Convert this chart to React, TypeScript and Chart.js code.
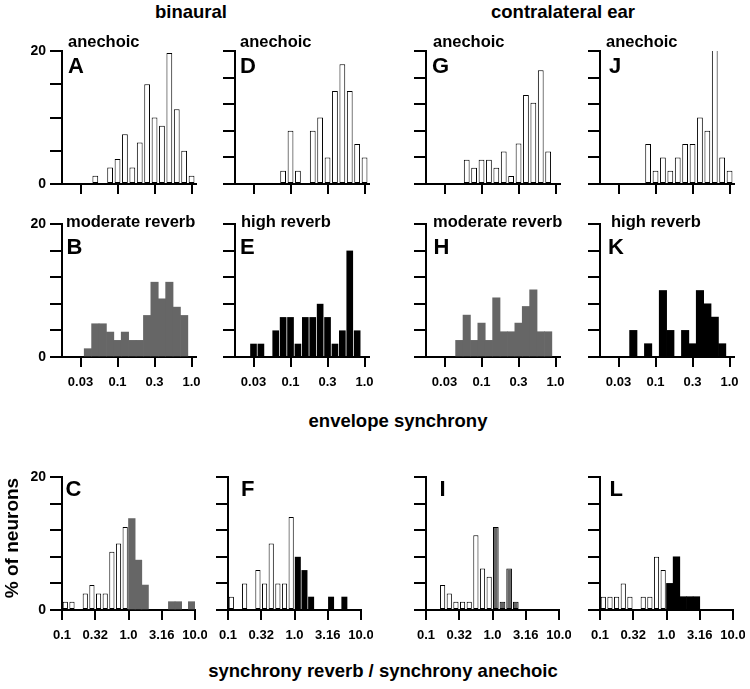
import React, { useEffect, useRef } from 'react';
import { Chart, registerables } from 'chart.js';

Chart.register(...registerables);

const FONT = '"Liberation Sans", Arial, Helvetica, sans-serif';

// ---------- envelope synchrony histograms (bin centres in log10 units, % of neurons) ----------
const binsA = [-1.3, -1.1, -1.0, -0.9, -0.8, -0.7, -0.6, -0.5, -0.4, -0.3, -0.2, -0.1, 0.0];
const valsA = [1.25, 2.5, 3.75, 7.5, 2.5, 6.25, 15, 10, 8.75, 19.7, 11.25, 5, 1.25];

const binsD = [-1.1, -1.0, -0.9, -0.7, -0.6, -0.5, -0.4, -0.3, -0.2, -0.1, 0.0];
const valsD = [2, 8, 2, 8, 10, 4, 14, 18, 14, 6, 4];

const binsG = [-1.2, -1.1, -1.0, -0.9, -0.8, -0.7, -0.6, -0.5, -0.4, -0.3, -0.2, -0.1];
const valsG = [3.66, 2.44, 3.66, 3.66, 2.44, 4.88, 1.22, 6.1, 13.4, 12.2, 17.1, 4.88];

const binsJ = [-1.1, -1.0, -0.9, -0.8, -0.7, -0.6, -0.5, -0.4, -0.3, -0.2, -0.1, 0.0];
const valsJ = [6, 2, 4, 2, 4, 6, 6, 10, 8, 26, 4, 2];

const binsB = [-1.4, -1.3, -1.2, -1.1, -1.0, -0.9, -0.8, -0.7, -0.6, -0.5, -0.4, -0.3, -0.2, -0.1];
const valsB = [1.25, 5, 5, 3.75, 2.5, 3.75, 2.5, 2.5, 6.25, 11.25, 8.75, 11.25, 7.5, 6.25];

const binsE = [-1.5, -1.4, -1.2, -1.1, -1.0, -0.9, -0.8, -0.7, -0.6, -0.5, -0.4, -0.3, -0.2, -0.1];
const valsE = [2, 2, 4, 6, 6, 2, 6, 6, 8, 6, 2, 4, 16, 4];

const binsH = [-1.3, -1.2, -1.1, -1.0, -0.9, -0.8, -0.7, -0.6, -0.5, -0.4, -0.3, -0.2, -0.1];
const valsH = [2.5, 6.3, 2.5, 5.1, 2.5, 8.9, 3.8, 3.8, 5.1, 7.6, 10.1, 3.8, 3.8];

const binsK = [-1.3, -1.1, -0.9, -0.8, -0.6, -0.5, -0.4, -0.3, -0.2, -0.1];
const valsK = [4, 2, 10, 4, 4, 2, 10, 8, 6, 2];

// ---------- ratio histograms (log10 of synchrony reverb / anechoic) ----------
const binsCOpen = [-0.95, -0.85, -0.65, -0.55, -0.45, -0.35, -0.25, -0.15, -0.05];
const valsCOpen = [1.25, 1.25, 2.5, 3.75, 2.5, 2.5, 8.75, 10, 12.5];
const binsCFill = [0.05, 0.15, 0.25, 0.65, 0.75, 0.95];
const valsCFill = [13.75, 7.5, 3.75, 1.25, 1.25, 1.25];

const binsFOpen = [-0.95, -0.75, -0.55, -0.45, -0.35, -0.25, -0.15, -0.05];
const valsFOpen = [2, 4, 6, 4, 10, 4, 4, 14];
const binsFFill = [0.05, 0.15, 0.25, 0.55, 0.75];
const valsFFill = [8, 6, 2, 2, 2];

const binsIOpen = [-0.75, -0.65, -0.55, -0.45, -0.35, -0.25, -0.15, -0.05];
const valsIOpen = [3.75, 2.5, 1.25, 1.25, 1.25, 11.25, 6.25, 5];
const binsIFill = [0.05, 0.15, 0.25, 0.35];
const valsIFill = [12.5, 1.25, 6.25, 1.25];

const binsLOpen = [-0.95, -0.85, -0.75, -0.65, -0.55, -0.35, -0.25, -0.15, -0.05];
const valsLOpen = [2, 2, 2, 4, 2, 2, 2, 8, 6];
const binsLFill = [0.05, 0.15, 0.25, 0.35, 0.45];
const valsLFill = [4, 8, 2, 2, 2];

// ---------- tick values / labels ----------
const envTicks = [-1.5, -1, -0.5, 0];
const envTickLabels = ['0.03', '0.1', '0.3', '1.0'];
const ratioTicks = [-1, -0.5, 0, 0.5, 1];
const ratioTickLabels = ['0.1', '0.32', '1.0', '3.16', '10.0'];
const yMax = 20;

type Kind = 'open' | 'gray' | 'black' | 'blackSep' | 'grayOutlined';
interface Series { bins: number[]; vals: number[]; kind: Kind }
interface PanelDef {
  id: string; left: number; top: number; width: number; height: number;
  xMin: number; xMax: number; ticks: number[]; tickLabels: string[];
  showXLabels: boolean; showYLabels: boolean; yStep: number; series: Series[];
}

const styleFor = (kind: Kind): any => {
  switch (kind) {
    case 'open':
      return { backgroundColor: '#ffffff', borderColor: '#000000', borderWidth: 1, borderSkipped: false, barPercentage: 0.78, categoryPercentage: 1 };
    case 'gray':
      return { backgroundColor: '#666666', borderWidth: 0, barPercentage: 1, categoryPercentage: 1 };
    case 'grayOutlined':
      return { backgroundColor: '#666666', borderColor: '#000000', borderWidth: 1, borderSkipped: false, barPercentage: 0.85, categoryPercentage: 1 };
    case 'black':
      return { backgroundColor: '#000000', borderWidth: 0, barPercentage: 1, categoryPercentage: 1 };
    case 'blackSep':
      return { backgroundColor: '#000000', borderWidth: 0, barPercentage: 0.9, categoryPercentage: 1, inflateAmount: 0 };
  }
};

const ENV_MIN = -1.75, ENV_MAX = 0.06;
const R1 = { top: 51, height: 133 };
const R2 = { top: 224, height: 133 };
const R3 = { top: 477, height: 133 };
const envCols = [62, 235, 426, 600];
const ratioCols = [62, 228, 426, 600];

const envPanel = (id: string, col: number, row: { top: number; height: number }, series: Series[], showXLabels: boolean, showYLabels: boolean, yStep: number): PanelDef => ({
  id, left: col, top: row.top, width: 134, height: row.height, xMin: ENV_MIN, xMax: ENV_MAX,
  ticks: envTicks, tickLabels: envTickLabels, showXLabels, showYLabels, yStep, series,
});
const ratioPanel = (id: string, col: number, series: Series[], showYLabels: boolean): PanelDef => ({
  id, left: col, top: R3.top, width: 133, height: R3.height, xMin: -1, xMax: 1,
  ticks: ratioTicks, tickLabels: ratioTickLabels, showXLabels: true, showYLabels, yStep: 4, series,
});

const panels: PanelDef[] = [
  envPanel('A', envCols[0], R1, [{ bins: binsA, vals: valsA, kind: 'open' }], false, true, 5),
  envPanel('D', envCols[1], R1, [{ bins: binsD, vals: valsD, kind: 'open' }], false, false, 4),
  envPanel('G', envCols[2], R1, [{ bins: binsG, vals: valsG, kind: 'open' }], false, false, 4),
  envPanel('J', envCols[3], R1, [{ bins: binsJ, vals: valsJ, kind: 'open' }], false, false, 4),
  envPanel('B', envCols[0], R2, [{ bins: binsB, vals: valsB, kind: 'gray' }], true, true, 4),
  envPanel('E', envCols[1], R2, [{ bins: binsE, vals: valsE, kind: 'blackSep' }], true, false, 4),
  envPanel('H', envCols[2], R2, [{ bins: binsH, vals: valsH, kind: 'gray' }], true, false, 4),
  envPanel('K', envCols[3], R2, [{ bins: binsK, vals: valsK, kind: 'black' }], true, false, 4),
  ratioPanel('C', ratioCols[0], [{ bins: binsCOpen, vals: valsCOpen, kind: 'open' }, { bins: binsCFill, vals: valsCFill, kind: 'gray' }], true),
  ratioPanel('F', ratioCols[1], [{ bins: binsFOpen, vals: valsFOpen, kind: 'open' }, { bins: binsFFill, vals: valsFFill, kind: 'blackSep' }], false),
  ratioPanel('I', ratioCols[2], [{ bins: binsIOpen, vals: valsIOpen, kind: 'open' }, { bins: binsIFill, vals: valsIFill, kind: 'grayOutlined' }], false),
  ratioPanel('L', ratioCols[3], [{ bins: binsLOpen, vals: valsLOpen, kind: 'open' }, { bins: binsLFill, vals: valsLFill, kind: 'black' }], false),
];

const PAD_L = 60, PAD_T = 8, PAD_R = 12, PAD_B = 45;

function Panel({ p }: { p: PanelDef }) {
  const ref = useRef<HTMLCanvasElement>(null);
  const w = p.width + PAD_L + PAD_R;
  const h = p.height + PAD_T + PAD_B;
  useEffect(() => {
    if (!ref.current) return;
    const chart = new Chart(ref.current, {
      type: 'bar',
      data: {
        datasets: p.series.map((s) => ({
          data: s.bins.map((b, i) => ({ x: b, y: s.vals[i] })),
          grouped: false,
          clip: 0,
          ...styleFor(s.kind),
        })),
      },
      options: {
        animation: false,
        responsive: false,
        maintainAspectRatio: false,
        layout: { padding: { top: PAD_T, right: PAD_R, left: 0, bottom: 0 } },
        plugins: { legend: { display: false }, tooltip: { enabled: false }, title: { display: false } },
        scales: {
          x: {
            type: 'linear', min: p.xMin, max: p.xMax, offset: false, bounds: 'data', z: 1,
            grid: { offset: false, drawOnChartArea: false, drawTicks: true, tickLength: 10, lineWidth: 2, color: '#000' },
            border: { display: true, width: 2, color: '#000' },
            afterBuildTicks: (s: any) => { s.ticks = p.ticks.map((v) => ({ value: v })); },
            ticks: {
              autoSkip: false, maxRotation: 0, minRotation: 0, padding: 8, color: '#000',
              font: { family: FONT, size: 13, weight: 'bold' },
              callback: (v: any) => {
                if (!p.showXLabels) return '';
                const i = p.ticks.indexOf(Number(v));
                return i >= 0 ? p.tickLabels[i] : '';
              },
            },
            afterFit: (s: any) => { s.height = PAD_B; s.paddingLeft = 0; s.paddingRight = 0; },
          },
          y: {
            type: 'linear', min: 0, max: yMax, z: 1,
            grid: { drawOnChartArea: false, drawTicks: true, tickLength: 12, lineWidth: 2, color: '#000' },
            border: { display: true, width: 2, color: '#000' },
            ticks: {
              stepSize: p.yStep, padding: 4, color: '#000',
              font: { family: FONT, size: 14, weight: 'bold' },
              callback: (v: any) => (p.showYLabels && (v === 0 || v === yMax) ? String(v) : ''),
            },
            afterFit: (s: any) => { s.width = PAD_L; s.paddingTop = 0; s.paddingBottom = 0; },
          },
        },
      } as any,
    });
    return () => chart.destroy();
  }, []);
  return (
    <canvas
      ref={ref}
      width={w}
      height={h}
      style={{ position: 'absolute', left: p.left - PAD_L, top: p.top - PAD_T, width: w, height: h }}
    />
  );
}

const titleStyle: React.CSSProperties = {
  position: 'absolute', fontFamily: FONT, fontWeight: 'bold', fontSize: 18.5,
  lineHeight: 1, whiteSpace: 'nowrap', color: '#000',
};
const condStyle: React.CSSProperties = { ...titleStyle, fontSize: 16.5 };
const letterStyle: React.CSSProperties = { ...titleStyle, fontSize: 22 };

const conditionLabels = [
  { text: 'anechoic', x: 68, y: 33 }, { text: 'anechoic', x: 240, y: 33 },
  { text: 'anechoic', x: 433, y: 33 }, { text: 'anechoic', x: 606, y: 33 },
  { text: 'moderate reverb', x: 66, y: 213 }, { text: 'high reverb', x: 241, y: 213 },
  { text: 'moderate reverb', x: 433, y: 213 }, { text: 'high reverb', x: 611, y: 213 },
];
const panelLetters = [
  { text: 'A', x: 68, y: 55 }, { text: 'D', x: 240, y: 55 }, { text: 'G', x: 432, y: 55 }, { text: 'J', x: 609, y: 55 },
  { text: 'B', x: 66.5, y: 236 }, { text: 'E', x: 240, y: 236 }, { text: 'H', x: 433.5, y: 236 }, { text: 'K', x: 608, y: 236 },
  { text: 'C', x: 65.5, y: 478 }, { text: 'F', x: 241, y: 478 }, { text: 'I', x: 439.5, y: 478 }, { text: 'L', x: 609.5, y: 478 },
];
const centredTitles = [
  { text: 'binaural', x: 191, y: 3 },
  { text: 'contralateral ear', x: 563, y: 3 },
  { text: 'envelope synchrony', x: 398, y: 412 },
  { text: 'synchrony reverb / synchrony anechoic', x: 383, y: 662 },
];

export default function App() {
  return (
    <div style={{ position: 'fixed', left: 0, top: 0, width: 750, height: 689, background: '#fff', overflow: 'hidden' }}>
      {panels.map((p) => <Panel key={p.id} p={p} />)}
      {centredTitles.map((t, i) => (
        <div key={'t' + i} style={{ ...titleStyle, left: t.x, top: t.y, transform: 'translateX(-50%)' }}>{t.text}</div>
      ))}
      <div style={{ ...titleStyle, fontSize: 19, left: 11, top: 538, transform: 'translate(-50%, -50%) rotate(-90deg)' }}>% of neurons</div>
      {conditionLabels.map((t, i) => (
        <div key={'c' + i} style={{ ...condStyle, left: t.x, top: t.y }}>{t.text}</div>
      ))}
      {panelLetters.map((t, i) => (
        <div key={'l' + i} style={{ ...letterStyle, left: t.x, top: t.y }}>{t.text}</div>
      ))}
    </div>
  );
}
